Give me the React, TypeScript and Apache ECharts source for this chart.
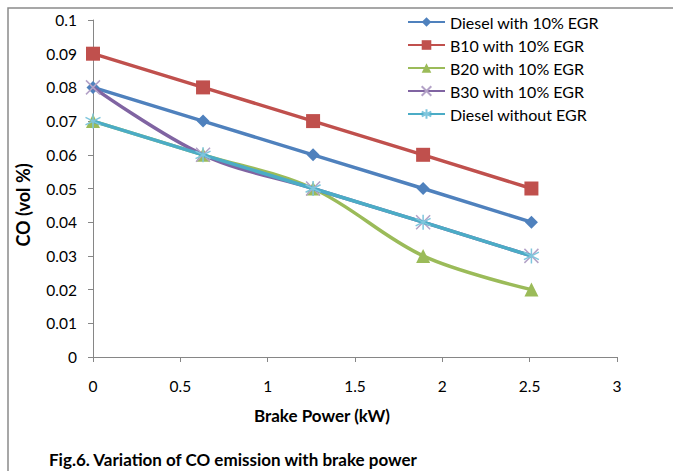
import React, { useEffect, useRef } from "react";
import * as echarts from "echarts";

const brakePower = [0, 0.63, 1.26, 1.89, 2.51];
const dieselEGR = [0.08, 0.07, 0.06, 0.05, 0.04];
const b10EGR = [0.09, 0.08, 0.07, 0.06, 0.05];
const b20EGR = [0.07, 0.06, 0.05, 0.03, 0.02];
const b30EGR = [0.08, 0.06, 0.05, 0.04, 0.03];
const dieselNoEGR = [0.07, 0.06, 0.05, 0.04, 0.03];

const seriesNames = [
  "Diesel with 10% EGR",
  "B10 with 10% EGR",
  "B20 with 10% EGR",
  "B30 with 10% EGR",
  "Diesel without EGR",
];

const FONT = "Lato";
const CROSS = "path://M0 0L10 10M10 0L0 10";
const STAR = "path://M5 0L5 10M0 2.5L10 7.5M0 7.5L10 2.5";

const pairs = (ys: number[]) => brakePower.map((x, i) => [x, ys[i]]);

export default function App() {
  const ref = useRef<HTMLDivElement>(null);
  useEffect(() => {
    if (!ref.current) return;
    const chart = echarts.init(ref.current, undefined, { renderer: "svg" });
    const axisColor = "#868686";
    chart.setOption({
      animation: false,
      backgroundColor: "#ffffff",
      textStyle: { fontFamily: FONT },
      grid: { left: 93, right: 56, top: 20, bottom: 114 },
      legend: {
        orient: "vertical",
        left: 402,
        top: 9,
        itemWidth: 37,
        itemHeight: 12,
        itemGap: 7,
        textStyle: { fontFamily: FONT, fontSize: 16, color: "#000" },
        data: seriesNames,
      },
      xAxis: {
        type: "value",
        min: 0,
        max: 3,
        interval: 0.5,
        axisLine: { lineStyle: { color: axisColor } },
        axisTick: { length: 5, lineStyle: { color: axisColor } },
        splitLine: { show: false },
        axisLabel: { color: "#000", fontSize: 15.5, fontFamily: FONT, margin: 21 },
      },
      yAxis: {
        type: "value",
        min: 0,
        max: 0.1,
        interval: 0.01,
        axisLine: { show: true, lineStyle: { color: axisColor } },
        axisTick: { show: true, length: 5, lineStyle: { color: axisColor } },
        splitLine: { show: false },
        axisLabel: { color: "#000", fontSize: 15.5, fontFamily: FONT, margin: 16 },
      },
      graphic: [
        {
          type: "rect",
          shape: { x: 8, y: 8, width: 700, height: 500 },
          style: { fill: "none", stroke: "#8a8a8a", lineWidth: 1.5 },
          silent: true,
        },
        {
          type: "text",
          x: 322,
          y: 415,
          style: {
            text: "Brake Power (kW)",
            font: `bold 17px ${FONT}`,
            fill: "#000",
            align: "center",
            verticalAlign: "middle",
          },
        },
        {
          type: "text",
          x: 23,
          y: 205,
          rotation: Math.PI / 2,
          style: {
            text: "CO (vol %)",
            font: `bold 18px ${FONT}`,
            fill: "#000",
            align: "center",
            verticalAlign: "middle",
          },
        },
        {
          type: "text",
          x: 49,
          y: 459,
          style: {
            text: "Fig.6. Variation of CO emission with brake power",
            font: `bold 17px ${FONT}`,
            fill: "#000",
            align: "left",
            verticalAlign: "middle",
          },
        },
      ],
      series: [
        {
          name: seriesNames[0],
          type: "line",
          data: pairs(dieselEGR),
          symbol: "diamond",
          symbolSize: 13,
          lineStyle: { width: 3.5, color: "#4F81BD" },
          itemStyle: { color: "#4F81BD" },
          z: 2,
        },
        {
          name: seriesNames[1],
          type: "line",
          data: pairs(b10EGR),
          symbol: "rect",
          symbolSize: 14,
          lineStyle: { width: 3.5, color: "#C0504D" },
          itemStyle: { color: "#C0504D" },
          z: 3,
        },
        {
          name: seriesNames[2],
          type: "line",
          data: pairs(b20EGR),
          smooth: 0.35,
          symbol: "triangle",
          symbolSize: 14,
          lineStyle: { width: 3.5, color: "#9BBB59" },
          itemStyle: { color: "#9BBB59" },
          z: 4,
        },
        {
          name: seriesNames[3],
          type: "line",
          data: pairs(b30EGR),
          smooth: 0.35,
          symbol: CROSS,
          symbolSize: 14,
          lineStyle: { width: 3.5, color: "#8064A2" },
          itemStyle: { color: "transparent", borderColor: "#B3A2C7", borderWidth: 1.5 },
          z: 5,
        },
        {
          name: seriesNames[4],
          type: "line",
          data: pairs(dieselNoEGR),
          symbol: STAR,
          symbolSize: 15,
          lineStyle: { width: 3.5, color: "#4BACC6" },
          itemStyle: { color: "transparent", borderColor: "#7FC6DD", borderWidth: 1.5 },
          z: 6,
        },
      ],
    });
    return () => chart.dispose();
  }, []);
  return (
    <div
      ref={ref}
      style={{ position: "absolute", left: 0, top: 0, width: 673, height: 471 }}
    />
  );
}
